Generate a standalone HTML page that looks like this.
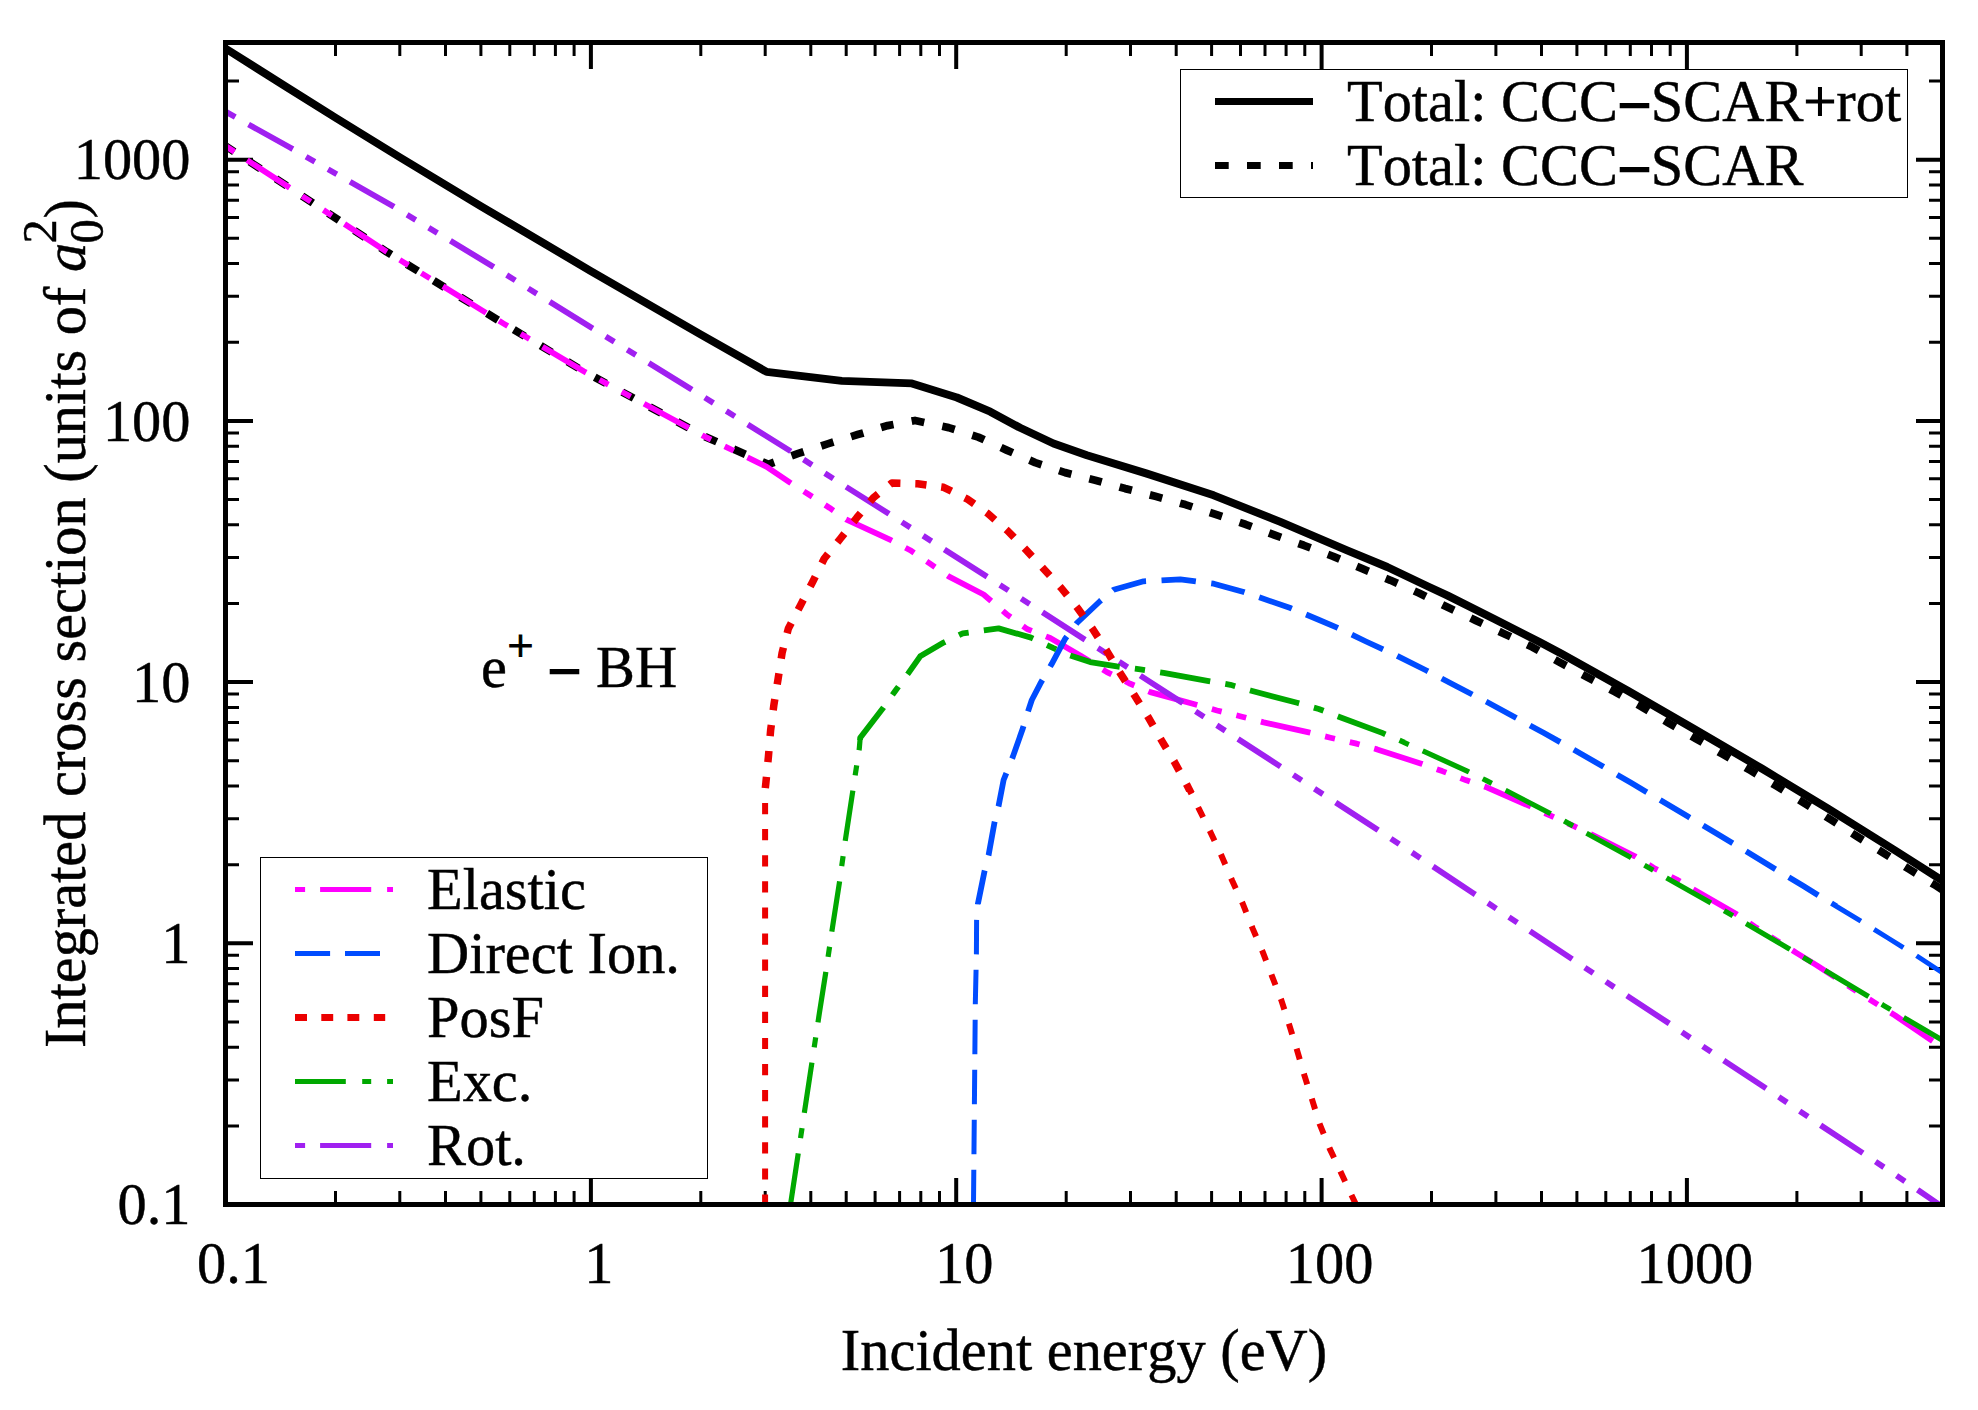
<!DOCTYPE html>
<html lang="en"><head><meta charset="utf-8"><title>Integrated cross section</title>
<style>html,body{margin:0;padding:0;background:#fff}svg{display:block}text{font-family:"Liberation Serif", "DejaVu Serif", serif;font-size:58.4px;fill:#000;stroke:#000;stroke-width:0.45px;font-kerning:none;font-variant-ligatures:none}</style></head><body>
<svg width="1978" height="1410" viewBox="0 0 1978 1410">
<rect width="1978" height="1410" fill="#fff"/>
<defs><clipPath id="plot"><rect x="225.5" y="42.5" width="1717.0" height="1162.0"/></clipPath></defs>
<path d="M590.9 1204.5 v-26.5 M590.9 42.5 v26.5 M225.5 943.3 h27.5 M1942.5 943.3 h-26.5 M956.2 1204.5 v-26.5 M956.2 42.5 v26.5 M225.5 682.1 h27.5 M1942.5 682.1 h-26.5 M1321.6 1204.5 v-26.5 M1321.6 42.5 v26.5 M225.5 420.9 h27.5 M1942.5 420.9 h-26.5 M1686.9 1204.5 v-26.5 M1686.9 42.5 v26.5 M225.5 159.7 h27.5 M1942.5 159.7 h-26.5" stroke="#000" stroke-width="4" fill="none"/>
<path d="M335.5 1204.5 v-13.5 M335.5 42.5 v13.5 M225.5 1125.9 h13.5 M1942.5 1125.9 h-13.5 M399.8 1204.5 v-13.5 M399.8 42.5 v13.5 M225.5 1079.9 h13.5 M1942.5 1079.9 h-13.5 M445.5 1204.5 v-13.5 M445.5 42.5 v13.5 M225.5 1047.2 h13.5 M1942.5 1047.2 h-13.5 M480.9 1204.5 v-13.5 M480.9 42.5 v13.5 M225.5 1021.9 h13.5 M1942.5 1021.9 h-13.5 M509.8 1204.5 v-13.5 M509.8 42.5 v13.5 M225.5 1001.2 h13.5 M1942.5 1001.2 h-13.5 M534.3 1204.5 v-13.5 M534.3 42.5 v13.5 M225.5 983.8 h13.5 M1942.5 983.8 h-13.5 M555.4 1204.5 v-13.5 M555.4 42.5 v13.5 M225.5 968.6 h13.5 M1942.5 968.6 h-13.5 M574.1 1204.5 v-13.5 M574.1 42.5 v13.5 M225.5 955.3 h13.5 M1942.5 955.3 h-13.5 M700.8 1204.5 v-13.5 M700.8 42.5 v13.5 M225.5 864.7 h13.5 M1942.5 864.7 h-13.5 M765.2 1204.5 v-13.5 M765.2 42.5 v13.5 M225.5 818.7 h13.5 M1942.5 818.7 h-13.5 M810.8 1204.5 v-13.5 M810.8 42.5 v13.5 M225.5 786.0 h13.5 M1942.5 786.0 h-13.5 M846.2 1204.5 v-13.5 M846.2 42.5 v13.5 M225.5 760.7 h13.5 M1942.5 760.7 h-13.5 M875.1 1204.5 v-13.5 M875.1 42.5 v13.5 M225.5 740.0 h13.5 M1942.5 740.0 h-13.5 M899.6 1204.5 v-13.5 M899.6 42.5 v13.5 M225.5 722.6 h13.5 M1942.5 722.6 h-13.5 M920.8 1204.5 v-13.5 M920.8 42.5 v13.5 M225.5 707.4 h13.5 M1942.5 707.4 h-13.5 M939.5 1204.5 v-13.5 M939.5 42.5 v13.5 M225.5 694.1 h13.5 M1942.5 694.1 h-13.5 M1066.2 1204.5 v-13.5 M1066.2 42.5 v13.5 M225.5 603.5 h13.5 M1942.5 603.5 h-13.5 M1130.5 1204.5 v-13.5 M1130.5 42.5 v13.5 M225.5 557.5 h13.5 M1942.5 557.5 h-13.5 M1176.2 1204.5 v-13.5 M1176.2 42.5 v13.5 M225.5 524.8 h13.5 M1942.5 524.8 h-13.5 M1211.6 1204.5 v-13.5 M1211.6 42.5 v13.5 M225.5 499.5 h13.5 M1942.5 499.5 h-13.5 M1240.5 1204.5 v-13.5 M1240.5 42.5 v13.5 M225.5 478.8 h13.5 M1942.5 478.8 h-13.5 M1265.0 1204.5 v-13.5 M1265.0 42.5 v13.5 M225.5 461.4 h13.5 M1942.5 461.4 h-13.5 M1286.1 1204.5 v-13.5 M1286.1 42.5 v13.5 M225.5 446.2 h13.5 M1942.5 446.2 h-13.5 M1304.8 1204.5 v-13.5 M1304.8 42.5 v13.5 M225.5 432.9 h13.5 M1942.5 432.9 h-13.5 M1431.5 1204.5 v-13.5 M1431.5 42.5 v13.5 M225.5 342.3 h13.5 M1942.5 342.3 h-13.5 M1495.9 1204.5 v-13.5 M1495.9 42.5 v13.5 M225.5 296.3 h13.5 M1942.5 296.3 h-13.5 M1541.5 1204.5 v-13.5 M1541.5 42.5 v13.5 M225.5 263.6 h13.5 M1942.5 263.6 h-13.5 M1576.9 1204.5 v-13.5 M1576.9 42.5 v13.5 M225.5 238.3 h13.5 M1942.5 238.3 h-13.5 M1605.8 1204.5 v-13.5 M1605.8 42.5 v13.5 M225.5 217.6 h13.5 M1942.5 217.6 h-13.5 M1630.3 1204.5 v-13.5 M1630.3 42.5 v13.5 M225.5 200.2 h13.5 M1942.5 200.2 h-13.5 M1651.5 1204.5 v-13.5 M1651.5 42.5 v13.5 M225.5 185.0 h13.5 M1942.5 185.0 h-13.5 M1670.2 1204.5 v-13.5 M1670.2 42.5 v13.5 M225.5 171.7 h13.5 M1942.5 171.7 h-13.5 M1796.9 1204.5 v-13.5 M1796.9 42.5 v13.5 M225.5 81.1 h13.5 M1942.5 81.1 h-13.5 M1861.2 1204.5 v-13.5 M1861.2 42.5 v13.5 M1906.9 1204.5 v-13.5 M1906.9 42.5 v13.5" stroke="#000" stroke-width="3" fill="none"/>
<g clip-path="url(#plot)" fill="none" stroke-linejoin="round" stroke-linecap="butt">
<path d="M225.5 48.5 L286.7 87.2 L336.8 118.5 L400.2 157.5 L480.3 205.8 L590.4 270.8 L700.5 334.4 L766.7 371.9 L841.8 380.9 L911.9 383.4 L956.9 397.5 L990.3 411.7 L1020.1 427.8 L1053.5 443.5 L1086.9 455.2 L1146.9 473.6 L1213.7 495.3 L1280.4 521.9 L1347.1 550.3 L1387.2 567.0 L1428.1 586.5 L1447.2 595.4 L1494.8 619.2 L1540.0 642.3 L1561.6 653.8 L1628.3 691.0 L1695.0 729.5 L1761.8 768.5 L1828.5 808.8 L1895.2 850.5 L1942.8 880.8" stroke="#000" stroke-width="7.9"/>
<path d="M225.5 146.0 L286.7 185.8 L386.8 251.9 L503.6 323.6 L583.7 371.3 L687.1 427.0 L703.3 435.9 L768.4 464.4 L798.4 453.4 L827.6 443.9 L857.7 434.6 L887.7 425.6 L915.0 420.5 L948.6 427.6 L978.3 437.1 L1006.6 450.1 L1035.2 462.6 L1065.2 472.6 L1095.2 480.2 L1125.2 488.6 L1155.3 496.3 L1185.3 504.6 L1215.3 514.3 L1245.4 524.3 L1274.4 535.0 L1303.8 545.3 L1333.1 556.3 L1362.2 568.7 L1390.5 580.3 L1418.9 593.0 L1447.2 607.0 L1475.6 620.4 L1504.0 633.7 L1532.3 647.1 L1558.9 661.8 L1586.6 676.8 L1615.0 691.8 L1641.7 706.8 L1668.4 722.8 L1695.7 738.5 L1722.7 754.2 L1750.1 770.2 L1776.8 786.2 L1803.5 802.6 L1830.2 819.3 L1856.2 835.9 L1882.9 852.6 L1909.3 869.3 L1935.3 885.3 L1942.8 890.0" stroke="#000" stroke-width="7.8" stroke-dasharray="12.8 18.5" stroke-dashoffset="2.4"/>
<path d="M225.5 146.0 L286.7 185.8 L386.8 251.9 L503.6 323.6 L583.7 371.3 L687.1 427.0 L703.3 435.9 L766.7 466.8 L790.1 482.6 L808.4 494.3 L829.3 507.7 L846.0 519.3 L891.0 540.2 L910.2 550.2 L931.1 564.4 L948.6 576.4 L983.6 594.5 L990.3 600.2 L1007.0 614.5 L1027.0 629.0 L1050.2 638.0 L1080.2 655.4 L1106.9 672.1 L1130.3 683.8 L1150.3 692.1 L1193.7 704.0 L1217.0 710.5 L1242.0 716.7 L1263.7 722.4 L1308.8 732.4 L1330.5 737.7 L1355.5 743.4 L1377.2 749.4 L1420.5 763.4 L1442.2 771.1 L1465.6 780.1 L1487.3 787.6 L1529.9 806.2 L1551.6 816.2 L1573.3 825.9 L1593.3 835.3 L1635.0 856.3 L1655.0 868.6 L1676.7 879.6 L1695.0 890.3 L1736.7 914.3 L1755.1 927.0 L1796.8 953.1 L1816.8 965.4 L1855.2 990.4 L1895.2 1015.5 L1933.6 1041.8 L1942.8 1047.5" stroke="#ff00ff" stroke-width="5.8" stroke-dasharray="50.7 15.2 10.1 15.2 10.1 15.2" stroke-dashoffset="90.7"/>
<path d="M225.5 111.6 L290.0 147.5 L391.8 205.5 L492.0 265.9 L590.4 327.0 L690.5 388.7 L790.1 450.9 L845.1 486.2 L888.5 513.5 L943.6 549.0 L986.8 576.5 L1083.5 638.7 L1180.3 701.5 L1278.7 765.4 L1377.2 829.5 L1473.9 893.6 L1531.5 932.2 L1572.3 959.2 L1628.3 996.6 L1669.7 1023.8 L1725.1 1061.4 L1766.8 1088.8 L1822.5 1126.5 L1863.6 1153.6 L1918.6 1190.5 L1942.8 1207.0" stroke="#a020f0" stroke-width="5.8" stroke-dasharray="50.7 15.2 10.1 15.2 10.1 15.2" stroke-dashoffset="90.1"/>
<clipPath id="cl1"><rect x="225.5" y="904.0" width="1717.0" height="320.5"/></clipPath>
<clipPath id="ch1"><rect x="225.5" y="22.5" width="1717.0" height="881.5"/></clipPath>
<path clip-path="url(#cl1)" d="M973.3 1215.0 L973.5 1204.0 L975.3 1004.4 L976.4 954.3 L976.6 920.1 L977.8 904.3 L984.5 871.4 L988.6 855.1 L994.5 822.5 L998.6 805.9 L1003.6 780.0 L1012.8 756.9 L1022.8 728.5 L1027.8 712.0 L1031.8 700.0 L1040.2 683.8 L1051.8 663.8 L1065.2 638.7 L1076.9 623.0 L1100.2 601.0 L1113.6 589.7 L1143.6 581.3 L1180.3 579.3 L1213.7 583.7 L1243.7 592.0 L1290.4 608.0 L1318.0 619.5 L1337.1 627.7 L1366.0 641.5 L1397.1 655.8 L1426.4 670.5 L1456.0 686.0 L1486.5 701.8 L1515.9 717.8 L1544.0 733.0 L1573.9 749.8 L1602.6 766.2 L1631.0 782.8 L1660.0 799.9 L1688.4 816.8 L1717.0 833.8 L1746.1 851.2 L1775.1 868.9 L1803.0 885.8 L1831.8 903.5 L1860.9 921.2 L1888.0 938.0 L1916.3 955.6 L1942.8 973.0" stroke="#004cff" stroke-width="5" stroke-dasharray="34.5 15.5" stroke-dashoffset="39.3"/>
<path clip-path="url(#ch1)" d="M973.3 1215.0 L973.5 1204.0 L975.3 1004.4 L976.4 954.3 L976.6 920.1 L977.8 904.3 L984.5 871.4 L988.6 855.1 L994.5 822.5 L998.6 805.9 L1003.6 780.0 L1012.8 756.9 L1022.8 728.5 L1027.8 712.0 L1031.8 700.0 L1040.2 683.8 L1051.8 663.8 L1065.2 638.7 L1076.9 623.0 L1100.2 601.0 L1113.6 589.7 L1143.6 581.3 L1180.3 579.3 L1213.7 583.7 L1243.7 592.0 L1290.4 608.0 L1318.0 619.5 L1337.1 627.7 L1366.0 641.5 L1397.1 655.8 L1426.4 670.5 L1456.0 686.0 L1486.5 701.8 L1515.9 717.8 L1544.0 733.0 L1573.9 749.8 L1602.6 766.2 L1631.0 782.8 L1660.0 799.9 L1688.4 816.8 L1717.0 833.8 L1746.1 851.2 L1775.1 868.9 L1803.0 885.8 L1831.8 903.5 L1860.9 921.2 L1888.0 938.0 L1916.3 955.6 L1942.8 973.0" stroke="#004cff" stroke-width="5.8" stroke-dasharray="34.5 15.5" stroke-dashoffset="39.3"/>
<clipPath id="cl2"><rect x="225.5" y="792.0" width="1717.0" height="432.5"/></clipPath>
<clipPath id="ch2"><rect x="225.5" y="22.5" width="1717.0" height="769.5"/></clipPath>
<path clip-path="url(#cl2)" d="M765.1 1215.0 L765.1 790.0 L765.9 782.7 L768.4 756.9 L770.6 730.5 L773.9 704.8 L778.1 678.8 L782.1 652.9 L788.4 628.4 L800.4 605.4 L812.6 582.0 L824.3 558.5 L840.5 538.5 L856.8 517.7 L873.5 497.6 L891.9 483.0 L917.7 483.8 L943.6 487.3 L966.9 498.8 L987.8 513.5 L1007.8 531.0 L1025.8 549.6 L1043.5 568.7 L1061.2 588.0 L1077.5 608.0 L1092.5 628.7 L1106.9 651.1 L1120.2 673.1 L1134.6 695.5 L1147.9 716.7 L1161.3 740.0 L1174.3 761.7 L1187.0 785.1 L1198.7 808.4 L1210.3 831.8 L1221.3 855.2 L1232.0 880.2 L1242.7 903.5 L1252.7 928.6 L1262.7 951.9 L1272.1 976.3 L1281.4 1000.3 L1289.4 1025.3 L1297.1 1050.3 L1304.4 1075.4 L1312.1 1099.7 L1319.8 1124.4 L1329.7 1148.6 L1340.7 1172.0 L1352.4 1197.0 L1361.0 1215.0" stroke="#eb0000" stroke-width="6" stroke-dasharray="11.2 14.9" stroke-dashoffset="16.8"/>
<path clip-path="url(#ch2)" d="M765.1 1215.0 L765.1 790.0 L765.9 782.7 L768.4 756.9 L770.6 730.5 L773.9 704.8 L778.1 678.8 L782.1 652.9 L788.4 628.4 L800.4 605.4 L812.6 582.0 L824.3 558.5 L840.5 538.5 L856.8 517.7 L873.5 497.6 L891.9 483.0 L917.7 483.8 L943.6 487.3 L966.9 498.8 L987.8 513.5 L1007.8 531.0 L1025.8 549.6 L1043.5 568.7 L1061.2 588.0 L1077.5 608.0 L1092.5 628.7 L1106.9 651.1 L1120.2 673.1 L1134.6 695.5 L1147.9 716.7 L1161.3 740.0 L1174.3 761.7 L1187.0 785.1 L1198.7 808.4 L1210.3 831.8 L1221.3 855.2 L1232.0 880.2 L1242.7 903.5 L1252.7 928.6 L1262.7 951.9 L1272.1 976.3 L1281.4 1000.3 L1289.4 1025.3 L1297.1 1050.3 L1304.4 1075.4 L1312.1 1099.7 L1319.8 1124.4 L1329.7 1148.6 L1340.7 1172.0 L1352.4 1197.0 L1361.0 1215.0" stroke="#eb0000" stroke-width="7.5" stroke-dasharray="11.2 14.9" stroke-dashoffset="16.8"/>
<clipPath id="cl3"><rect x="225.5" y="740.0" width="1717.0" height="484.5"/></clipPath>
<clipPath id="ch3"><rect x="225.5" y="22.5" width="1717.0" height="717.5"/></clipPath>
<path clip-path="url(#cl3)" d="M789.0 1215.0 L790.6 1204.0 L819.3 1013.6 L825.6 973.5 L831.8 931.8 L839.3 883.4 L845.1 841.7 L852.7 791.7 L855.7 771.9 L859.3 748.5 L860.2 737.7 L882.7 708.5 L895.2 691.0 L908.2 673.4 L920.2 656.3 L943.6 642.6 L962.8 633.4 L983.6 630.4 L998.6 628.4 L1031.0 637.6 L1053.5 648.1 L1070.2 655.4 L1090.2 662.1 L1116.9 666.4 L1140.3 669.4 L1163.6 672.8 L1208.7 681.1 L1230.4 684.8 L1250.4 690.5 L1297.1 702.8 L1318.8 709.0 L1338.8 716.7 L1382.2 732.9 L1402.2 741.6 L1423.9 751.4 L1467.2 771.1 L1485.6 780.2 L1505.6 790.3 L1549.9 813.2 L1564.9 821.4 L1586.6 833.3 L1630.0 857.0 L1646.7 866.5 L1666.7 877.9 L1710.1 902.5 L1725.1 911.3 L1746.8 923.9 L1788.5 948.4 L1805.2 958.4 L1825.2 970.4 L1866.9 995.4 L1883.6 1005.4 L1903.6 1017.4 L1942.8 1040.5" stroke="#00a800" stroke-width="5.2" stroke-dasharray="50.9 15.3 10.2 15.3" stroke-dashoffset="80.2"/>
<path clip-path="url(#ch3)" d="M789.0 1215.0 L790.6 1204.0 L819.3 1013.6 L825.6 973.5 L831.8 931.8 L839.3 883.4 L845.1 841.7 L852.7 791.7 L855.7 771.9 L859.3 748.5 L860.2 737.7 L882.7 708.5 L895.2 691.0 L908.2 673.4 L920.2 656.3 L943.6 642.6 L962.8 633.4 L983.6 630.4 L998.6 628.4 L1031.0 637.6 L1053.5 648.1 L1070.2 655.4 L1090.2 662.1 L1116.9 666.4 L1140.3 669.4 L1163.6 672.8 L1208.7 681.1 L1230.4 684.8 L1250.4 690.5 L1297.1 702.8 L1318.8 709.0 L1338.8 716.7 L1382.2 732.9 L1402.2 741.6 L1423.9 751.4 L1467.2 771.1 L1485.6 780.2 L1505.6 790.3 L1549.9 813.2 L1564.9 821.4 L1586.6 833.3 L1630.0 857.0 L1646.7 866.5 L1666.7 877.9 L1710.1 902.5 L1725.1 911.3 L1746.8 923.9 L1788.5 948.4 L1805.2 958.4 L1825.2 970.4 L1866.9 995.4 L1883.6 1005.4 L1903.6 1017.4 L1942.8 1040.5" stroke="#00a800" stroke-width="5.8" stroke-dasharray="50.9 15.3 10.2 15.3" stroke-dashoffset="80.2"/>
</g>
<rect x="225.5" y="42.5" width="1717.0" height="1162.0" fill="none" stroke="#000" stroke-width="5"/>
<text x="233.5" y="1283" text-anchor="middle">0.1</text>
<text x="190.5" y="1224.1" text-anchor="end">0.1</text>
<text x="598.9" y="1283" text-anchor="middle">1</text>
<text x="190.5" y="962.9" text-anchor="end">1</text>
<text x="964.2" y="1283" text-anchor="middle">10</text>
<text x="190.5" y="701.7" text-anchor="end">10</text>
<text x="1329.6" y="1283" text-anchor="middle">100</text>
<text x="190.5" y="440.5" text-anchor="end">100</text>
<text x="1694.9" y="1283" text-anchor="middle">1000</text>
<text x="190.5" y="179.3" text-anchor="end">1000</text>
<text x="1084" y="1370.4" text-anchor="middle">Incident energy (eV)</text>
<g transform="translate(84.9 1048) rotate(-90)"><text x="0" y="0" textLength="761.3" lengthAdjust="spacingAndGlyphs">Integrated cross section (units of</text><text x="776.1" y="0" font-style="italic">a</text><text x="804.6" y="18.1" style="font-size:48.5px">0</text><text x="804.6" y="-28.7" style="font-size:48.5px">2</text><text x="829.5" y="0">)</text></g>
<text x="481" y="687">e</text>
<text x="507.4" y="660.8" style="font-size:46px;stroke-width:1.2px">+</text>
<text x="548" y="691.3" style="stroke-width:2.4px">−</text>
<text x="596" y="687">BH</text>
<rect x="1180.5" y="69.5" width="727" height="128" fill="#fff" stroke="#000" stroke-width="1"/>
<path d="M1215 101.5 H1313" stroke="#000" stroke-width="7" fill="none"/>
<path d="M1215 165.5 H1313" stroke="#000" stroke-width="7" fill="none" stroke-dasharray="13.7 18.3"/>
<text x="1347" y="121.3">Total: CCC<tspan dy="3.4" style="stroke-width:2.4px">−</tspan><tspan dy="-3.4">SCAR</tspan><tspan style="stroke-width:1.1px">+</tspan>rot</text>
<text x="1347" y="185.3">Total: CCC<tspan dy="3.4" style="stroke-width:2.4px">−</tspan><tspan dy="-3.4">SCAR</tspan></text>
<rect x="260.5" y="857.5" width="447" height="321" fill="#fff" stroke="#000" stroke-width="1"/>
<path d="M295.0 889.5 H305.1 M320.1 889.5 H371.2 M387.1 889.5 H393.0" stroke="#ff00ff" stroke-width="5" fill="none"/>
<path d="M295.0 953.5 H330.1 M345.0 953.5 H380.0" stroke="#004cff" stroke-width="5" fill="none"/>
<path d="M295.0 1017.5 H307.0 M321.3 1017.5 H333.2 M347.4 1017.5 H359.3 M373.8 1017.5 H385.2" stroke="#eb0000" stroke-width="7" fill="none"/>
<path d="M295.0 1081.5 H345.8 M362.2 1081.5 H371.2 M387.1 1081.5 H393.0" stroke="#00a800" stroke-width="5" fill="none"/>
<path d="M295.0 1145.5 H305.1 M320.1 1145.5 H371.2 M387.1 1145.5 H393.0" stroke="#a020f0" stroke-width="5" fill="none"/>
<text x="427" y="908.8">Elastic</text>
<text x="427" y="972.8">Direct Ion.</text>
<text x="427" y="1036.9">PosF</text>
<text x="427" y="1100.8">Exc.</text>
<text x="427" y="1164.8">Rot.</text>
</svg></body></html>
